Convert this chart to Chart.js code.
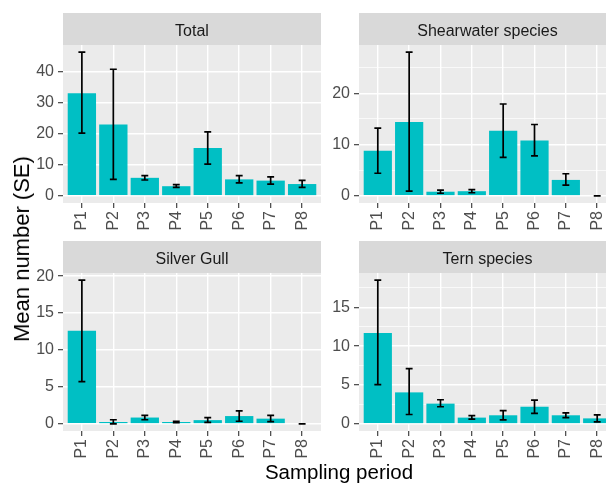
<!DOCTYPE html>
<html>
<head>
<meta charset="utf-8">
<script src="https://cdn.jsdelivr.net/npm/chart.js@4.4.0/dist/chart.umd.min.js"></script>
<style>
  body { margin: 0; background: #fff; overflow: hidden; width: 606px; height: 484px; position: relative;
         font-family: "Liberation Sans", Arial, sans-serif; }
  .panel { position: absolute; }
  #ytitle { position: absolute; left: 22px; top: 249px; transform: translate(-50%, -50%) rotate(-90deg);
            font-size: 22px; line-height: 1; white-space: nowrap; color: #000; }
  #xtitle { position: absolute; left: 339px; top: 462px; transform: translateX(-50%);
            font-size: 20.5px; line-height: 1; white-space: nowrap; color: #000; }
</style>
</head>
<body>
<div class="panel" style="left:0;top:0;width:340px;height:240px"><canvas id="total"></canvas></div>
<div class="panel" style="left:325px;top:0;width:300px;height:240px"><canvas id="shearwater"></canvas></div>
<div class="panel" style="left:0;top:228px;width:340px;height:240px"><canvas id="gull"></canvas></div>
<div class="panel" style="left:325px;top:228px;width:300px;height:240px"><canvas id="tern"></canvas></div>
<div id="ytitle">Mean number (SE)</div>
<div id="xtitle">Sampling period</div>

<script>
const periods = ['P1', 'P2', 'P3', 'P4', 'P5', 'P6', 'P7', 'P8'];

const totalMean = [33.1, 23.0, 5.8, 3.1, 15.4, 5.3, 4.9, 3.8];
const totalLow  = [20.2, 5.3, 5.1, 2.7, 10.2, 4.2, 3.8, 2.7];
const totalHigh = [46.3, 40.8, 6.5, 3.6, 20.6, 6.5, 6.1, 5.0];
const totalTicks = [0, 10, 20, 30, 40];

const shearMean = [8.8, 14.4, 0.8, 0.9, 12.7, 10.8, 3.1, 0];
const shearLow  = [4.4, 0.9, 0.5, 0.6, 7.5, 7.8, 2.1, 0];
const shearHigh = [13.2, 28.0, 1.1, 1.2, 17.9, 13.9, 4.3, 0];
const shearTicks = [0, 10, 20];

const gullMean = [12.6, 0.25, 0.85, 0.25, 0.5, 1.05, 0.7, 0];
const gullLow  = [5.7, 0.0, 0.55, 0.15, 0.2, 0.35, 0.3, 0];
const gullHigh = [19.45, 0.55, 1.15, 0.35, 0.85, 1.75, 1.15, 0];
const gullTicks = [0, 5, 10, 15, 20];

const ternMean = [11.7, 4.05, 2.6, 0.8, 1.1, 2.2, 1.1, 0.7];
const ternLow  = [5.05, 1.2, 2.2, 0.6, 0.5, 1.35, 0.8, 0.25];
const ternHigh = [18.5, 7.1, 3.1, 1.05, 1.7, 3.05, 1.4, 1.15];
const ternTicks = [0, 5, 10, 15];

Chart.defaults.font.family = '"Liberation Sans", Arial, sans-serif';
const clear = 'rgba(0,0,0,0)';

// grey panel background + facet strip
const stripPlugin = {
  id: 'strip',
  beforeDraw(chart, args, opts) {
    const { ctx, chartArea: a } = chart;
    ctx.save();
    ctx.fillStyle = '#EBEBEB';
    ctx.fillRect(a.left, a.top, a.right - a.left, a.bottom - a.top);
    ctx.fillStyle = '#D9D9D9';
    ctx.fillRect(a.left, a.top - 32, a.right - a.left, 32);
    ctx.fillStyle = '#1A1A1A';
    ctx.font = '16px "Liberation Sans", Arial, sans-serif';
    ctx.textAlign = 'center';
    ctx.textBaseline = 'alphabetic';
    ctx.fillText(opts.text, (a.left + a.right) / 2, a.top - 9);
    ctx.restore();
  }
};

const errorBarPlugin = {
  id: 'errorBars',
  afterDatasetsDraw(chart) {
    const { ctx, scales: { x, y } } = chart;
    const ds = chart.data.datasets[0];
    const meta = chart.getDatasetMeta(0);
    ctx.save();
    ctx.strokeStyle = '#000';
    ctx.lineWidth = 1.7;
    meta.data.forEach((bar, i) => {
      const top = y.getPixelForValue(ds.errHigh[i]);
      const bot = y.getPixelForValue(ds.errLow[i]);
      const l = x.getPixelForValue(i - 0.11);
      const r = x.getPixelForValue(i + 0.11);
      ctx.beginPath();
      ctx.moveTo(bar.x, top); ctx.lineTo(bar.x, bot);
      ctx.moveTo(l, top); ctx.lineTo(r, top);
      ctx.moveTo(l, bot); ctx.lineTo(r, bot);
      ctx.stroke();
    });
    ctx.restore();
  }
};

function makePanel(id, title, mean, low, high, majors, yWidth, padRight) {
  const top = Math.max(...high);
  const step = majors[1] - majors[0];
  const isMajor = v => majors.includes(v);
  const onPeriod = c => c.tick && Number.isInteger(c.tick.value);

  return new Chart(document.getElementById(id), {
    type: 'bar',
    data: {
      datasets: [{
        data: mean.map((m, i) => ({ x: i, y: m })),
        errLow: low,
        errHigh: high,
        backgroundColor: '#00BFC4',
        borderWidth: 0,
        barPercentage: 0.9,
        categoryPercentage: 1
      }]
    },
    options: {
      responsive: true,
      maintainAspectRatio: false,
      animation: false,
      layout: { padding: { top: 45, right: padRight, left: 0, bottom: 0 } },
      plugins: {
        legend: { display: false },
        tooltip: { enabled: false },
        strip: { text: title }
      },
      scales: {
        x: {
          type: 'linear',
          min: -0.6,
          max: periods.length - 0.4,
          offset: false,
          afterFit: s => { s.height = 37; },
          border: { display: false },
          grid: {
            offset: false,
            color: c => onPeriod(c) ? '#FFFFFF' : clear,
            lineWidth: 1.4,
            tickLength: 5,
            tickColor: c => onPeriod(c) ? '#333333' : clear,
            tickWidth: 1.1
          },
          ticks: {
            stepSize: 1, includeBounds: false,
            minRotation: 90, maxRotation: 90, autoSkip: false, padding: 3,
            color: '#4D4D4D', font: { size: 16 },
            callback: v => periods[v] || ''
          }
        },
        y: {
          min: -0.05 * top,
          max: 1.05 * top,
          afterFit: s => { s.width = yWidth; },
          border: { display: false },
          grid: {
            color: '#FFFFFF',
            lineWidth: c => isMajor(c.tick.value) ? 1.4 : 0.7,
            tickLength: 5,
            tickColor: c => isMajor(c.tick.value) ? '#333333' : clear,
            tickWidth: 1.1
          },
          ticks: {
            stepSize: step / 2, includeBounds: false,
            padding: 4, color: '#4D4D4D', font: { size: 16 },
            callback: v => isMajor(v) ? String(v) : ''
          }
        }
      }
    },
    plugins: [stripPlugin, errorBarPlugin]
  });
}

makePanel('total', 'Total', totalMean, totalLow, totalHigh, totalTicks, 63, 19);
makePanel('shearwater', 'Shearwater species', shearMean, shearLow, shearHigh, shearTicks, 34, 9);
makePanel('gull', 'Silver Gull', gullMean, gullLow, gullHigh, gullTicks, 63, 19);
makePanel('tern', 'Tern species', ternMean, ternLow, ternHigh, ternTicks, 34, 9);
</script>
</body>
</html>
